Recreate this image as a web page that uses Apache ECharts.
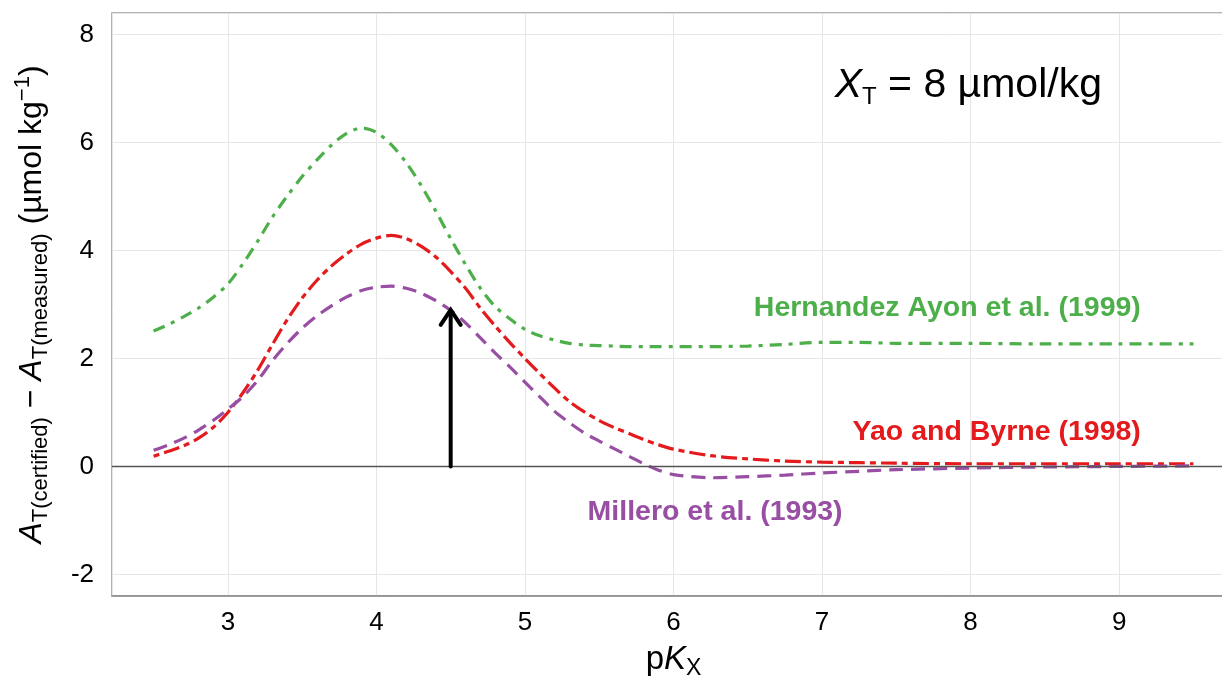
<!DOCTYPE html>
<html>
<head>
<meta charset="utf-8">
<script src="https://cdn.jsdelivr.net/npm/echarts@6/dist/echarts.min.js"></script>
<style>
html,body{margin:0;padding:0;background:#fff;}
#chart{width:1222px;height:683px;}
</style>
</head>
<body>
<div id="chart"></div>
<script>
// ---- data ----
const pKX = [2.5, 2.6, 2.7, 2.8, 2.9, 3.0, 3.1, 3.2, 3.3, 3.4, 3.5, 3.6, 3.7, 3.8, 3.9,
             4.0, 4.1, 4.2, 4.3, 4.4, 4.5, 4.6, 4.7, 4.8, 4.9, 5.0, 5.1, 5.2, 5.3, 5.4,
             5.5, 5.6, 5.7, 5.8, 5.9, 6.0, 6.25, 6.5, 6.75, 7.0, 7.25, 7.5, 8.0, 8.5, 9.0, 9.5];
const hernandez = [2.51, 2.63, 2.77, 2.93, 3.13, 3.38, 3.75, 4.17, 4.62, 5.01, 5.37, 5.68, 5.96, 6.17, 6.27,
                   6.19, 5.96, 5.63, 5.21, 4.73, 4.22, 3.74, 3.30, 2.96, 2.73, 2.54, 2.42, 2.34, 2.28, 2.25,
                   2.24, 2.23, 2.22, 2.22, 2.22, 2.22, 2.22, 2.23, 2.26, 2.30, 2.30, 2.28, 2.28, 2.27, 2.27, 2.27];
const yao = [0.19, 0.28, 0.38, 0.52, 0.72, 1.00, 1.36, 1.78, 2.26, 2.72, 3.12, 3.45, 3.72, 3.94, 4.12,
             4.23, 4.28, 4.22, 4.08, 3.88, 3.61, 3.30, 2.93, 2.60, 2.29, 2.00, 1.72, 1.45, 1.20, 1.01,
             0.85, 0.72, 0.61, 0.50, 0.40, 0.32, 0.20, 0.14, 0.10, 0.08, 0.07, 0.06, 0.05, 0.05, 0.05, 0.05];
const millero = [0.30, 0.40, 0.52, 0.67, 0.85, 1.06, 1.29, 1.59, 1.96, 2.28, 2.56, 2.79, 2.98, 3.14, 3.26,
                 3.32, 3.34, 3.30, 3.21, 3.07, 2.89, 2.66, 2.38, 2.10, 1.84, 1.56, 1.29, 1.02, 0.81, 0.62,
                 0.47, 0.33, 0.19, 0.05, -0.07, -0.15, -0.21, -0.19, -0.16, -0.12, -0.09, -0.06, -0.03, -0.01, 0.00, 0.01];
const seriesNames = ['Hernandez Ayon et al. (1999)', 'Yao and Byrne (1998)', 'Millero et al. (1993)'];
const arrowData = [[4.5, 0, 2.92]];   // x, from y, to y
const zeroLevel = 0;
const xRange = [2.22, 9.78];
const yRange = [-2.4, 8.4];

// annotation anchors (data coordinates)
const noteAt = [[9.146, 2.94], [9.146, 0.63], [6.28, -0.85], [7.085, 7.06]];

const FONT = "'Liberation Sans', Arial, Helvetica, sans-serif";
const GREEN = '#4DAF4A', RED = '#E41A1C', PURPLE = '#984EA3';

function pairs(ys){ return pKX.map((x,i)=>[x, ys[i]]); }

const chart = echarts.init(document.getElementById('chart'), null, {renderer:'canvas'});

const subRich = {
  m:{fontSize:32, fontFamily:FONT, color:'#000', lineHeight:40, verticalAlign:'middle'},
  i:{fontSize:32, fontFamily:FONT, color:'#000', fontStyle:'italic', lineHeight:40, verticalAlign:'middle'},
  sub:{fontSize:22, fontFamily:FONT, color:'#000', lineHeight:22, verticalAlign:'bottom'},
  sup:{fontSize:22, fontFamily:FONT, color:'#000', lineHeight:22, verticalAlign:'top'}
};
const xRich = {
  m:{fontSize:33, fontFamily:FONT, color:'#000', lineHeight:40, verticalAlign:'middle'},
  i:{fontSize:33, fontFamily:FONT, color:'#000', fontStyle:'italic', lineHeight:40, verticalAlign:'middle'},
  sub:{fontSize:23, fontFamily:FONT, color:'#000', lineHeight:22, verticalAlign:'bottom'}
};

function noteLabel(text, color, pos){
  return {show:true, position:pos, distance:0, formatter:text, color:color, opacity:1,
          fontSize:28.5, fontWeight:'bold', fontFamily:FONT};
}

const option = {
  backgroundColor:'#fff',
  animation:false,
  grid:{left:112, top:13, width:1123, height:583, show:true, borderColor:'#999', borderWidth:1.5, backgroundColor:'transparent', containLabel:false, outerBoundsMode:'none'},
  xAxis:{
    type:'value', min:xRange[0], max:xRange[1], splitNumber:8,
    axisLine:{show:true, onZero:false, lineStyle:{color:'#888', width:1.5}},
    axisTick:{show:false},
    axisLabel:{color:'#000', fontSize:26, fontFamily:FONT, margin:14, showMinLabel:false, showMaxLabel:false},
    splitLine:{show:true, lineStyle:{color:'#e6e6e6', width:1}},
    name:'{m|p}{i|K}{sub|X}', nameLocation:'middle', nameGap:44,
    nameTextStyle:{rich:xRich}
  },
  yAxis:{
    type:'value', min:yRange[0], max:yRange[1], splitNumber:5,
    axisLine:{show:false},
    axisTick:{show:false},
    axisLabel:{color:'#000', fontSize:26, fontFamily:FONT, margin:18, showMinLabel:false, showMaxLabel:false},
    splitLine:{show:true, lineStyle:{color:'#e6e6e6', width:1}},
    name:'{i|A}{sub|T(certified)}{m| − }{i|A}{sub|T(measured)}{m| (µmol kg}{sup|−1}{m|)}',
    nameLocation:'middle', nameGap:60, nameRotate:90,
    nameTextStyle:{rich:subRich}
  },
  series:[
    {name:seriesNames[0], type:'line', data:pairs(hernandez), smooth:0.3, symbol:'none',
     lineStyle:{color:GREEN, width:3.2, type:[12,7,4,7], cap:'butt'}, z:3},
    {name:seriesNames[1], type:'line', data:pairs(yao), smooth:0.3, symbol:'none',
     lineStyle:{color:RED, width:3.2, type:[6,5,16,5], cap:'butt'}, z:3},
    {name:seriesNames[2], type:'line', data:pairs(millero), smooth:0.3, symbol:'none',
     lineStyle:{color:PURPLE, width:3.2, type:[14,8], cap:'butt'}, z:3,
     markLine:{silent:true, symbol:'none', label:{show:false}, animation:false,
       lineStyle:{color:'#555', width:1.3, type:'solid'}, data:[{yAxis:zeroLevel}]}},
    {type:'custom', data:arrowData, z:5, encode:{x:0, y:[1,2]},
     renderItem:function(params, api){
       const x = api.value(0), y0 = api.value(1), y1 = api.value(2);
       const a = api.coord([x, y0]), b = api.coord([x, y1]);
       return {type:'group', children:[
         {type:'line', shape:{x1:a[0], y1:a[1], x2:b[0], y2:b[1]+2}, style:{stroke:'#000', lineWidth:4, lineCap:'round'}},
         {type:'polyline', shape:{points:[[b[0]-10, b[1]+16],[b[0], b[1]+1],[b[0]+10, b[1]+16]]}, style:{stroke:'#000', lineWidth:4, fill:null, lineJoin:'miter', lineCap:'round'}}
       ]};
     }},
    {type:'scatter', symbolSize:0, z:6, silent:true, itemStyle:{opacity:1},
     emphasis:{disabled:true},
     data:[
       {value:noteAt[0], label:noteLabel(seriesNames[0], GREEN, 'left')},
       {value:noteAt[1], label:noteLabel(seriesNames[1], RED, 'left')},
       {value:noteAt[2], label:noteLabel(seriesNames[2], PURPLE, 'inside')},
       {value:noteAt[3], label:{show:true, position:'right', distance:0, opacity:1, formatter:'{i|X}{sub|T}{m| = 8 µmol/kg}',
         rich:{
           m:{fontSize:41, fontFamily:FONT, color:'#000', lineHeight:48, verticalAlign:'middle'},
           i:{fontSize:41, fontFamily:FONT, color:'#000', fontStyle:'italic', lineHeight:48, verticalAlign:'middle'},
           sub:{fontSize:24, fontFamily:FONT, color:'#000', lineHeight:24, verticalAlign:'bottom'}
         }}}
     ]}
  ]
};
chart.setOption(option);
</script>
</body>
</html>
